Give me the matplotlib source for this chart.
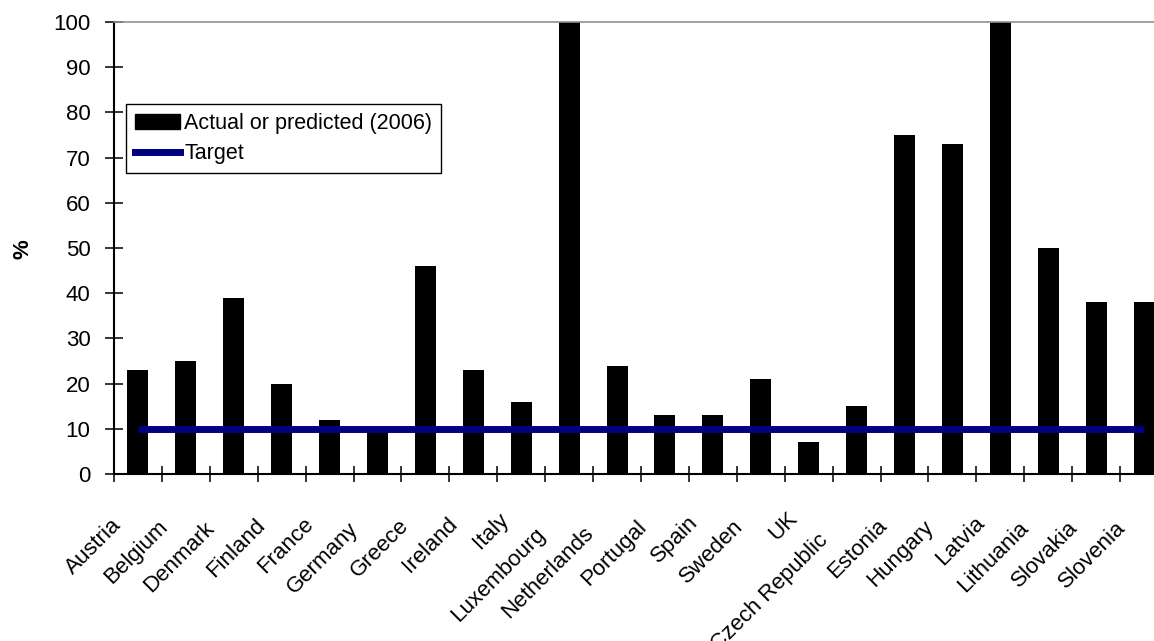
import matplotlib
matplotlib.use("Agg")
import matplotlib.pyplot as plt
from matplotlib.patches import Patch
from matplotlib.lines import Line2D
from matplotlib.textpath import TextPath
from matplotlib.font_manager import FontProperties

plt.rcParams['font.family'] = ['Liberation Sans', 'DejaVu Sans']

countries = ['Austria', 'Belgium', 'Denmark', 'Finland', 'France', 'Germany',
             'Greece', 'Ireland', 'Italy', 'Luxembourg', 'Netherlands',
             'Portugal', 'Spain', 'Sweden', 'UK', 'Czech Republic', 'Estonia',
             'Hungary', 'Latvia', 'Lithuania', 'Slovakia', 'Slovenia']
actual = [23, 25, 39, 20, 12, 10, 46, 23, 16, 100, 24,
          13, 13, 21, 7, 15, 75, 73, 100, 50, 38, 38]
target = [10, 10, 10, 10, 10, 10, 10, 10, 10, 10, 10,
          10, 10, 10, 10, 10, 10, 10, 10, 10, 10, 10]
yticks = [0, 10, 20, 30, 40, 50, 60, 70, 80, 90, 100]

FS = 16
W, H, DPI = 1154, 641, 100

fig = plt.figure(figsize=(W / DPI, H / DPI), dpi=DPI, facecolor='white')
# plot area runs a little past the right edge of the figure
ax = fig.add_axes([114 / W, 1 - 474 / H, (1168 - 114) / W, (474 - 22) / H])

x = list(range(len(countries)))
ax.bar(x, actual, width=0.44, color='black', zorder=2)
ax.plot(x, target, color='#000080', lw=5, solid_capstyle='butt', zorder=3)

ax.set_xlim(-0.5, len(countries) - 0.5)
ax.set_ylim(0, 100)
ax.set_yticks(yticks)
ax.set_xticks([k - 0.5 for k in range(len(countries) + 1)])
ax.set_xticklabels([])
ax.tick_params(axis='y', direction='inout', length=13, width=1.1,
               labelsize=FS, pad=10.5)
ax.tick_params(axis='x', direction='inout', length=12, width=1.1)

for side in ['left', 'bottom']:
    ax.spines[side].set_linewidth(1.5)
ax.spines['top'].set_color('#909090')
ax.spines['top'].set_linewidth(1.2)
ax.spines['right'].set_visible(False)

# rotated category labels, shifted a bit more for longer names
fp = FontProperties(family='Liberation Sans')
for i, name in enumerate(countries):
    L = TextPath((0, 0), name, size=FS, prop=fp).get_extents().width * DPI / 72
    dx = -21.5 - 0.133 * (L - 81)
    dy = 50.0 + 0.175 * (L - 81)
    ax.annotate(name, xy=(i, 0), xycoords='data',
                xytext=(dx * 72 / DPI, -dy * 72 / DPI), textcoords='offset points',
                rotation=45, ha='right', va='center', rotation_mode='anchor',
                fontsize=FS, annotation_clip=False)

fig.text(23 / W, 1 - 249 / H, '%', rotation=90, ha='center', va='center',
         fontsize=FS, fontweight='bold')

handles = [Patch(facecolor='black', edgecolor='black'),
           Line2D([0], [0], color='#000080', lw=5)]
leg = ax.legend(handles, ['Actual or predicted (2006)', 'Target'],
                loc='upper left', bbox_to_anchor=((126 - 114) / 1054, (474 - 104) / 452),
                borderaxespad=0, fontsize=15.5, fancybox=False, framealpha=1,
                edgecolor='black', handlelength=2.1, handletextpad=0.2,
                borderpad=0.4, labelspacing=0.45)
leg.get_frame().set_linewidth(1.0)

fig.savefig('out.png', dpi=DPI, facecolor='white')
